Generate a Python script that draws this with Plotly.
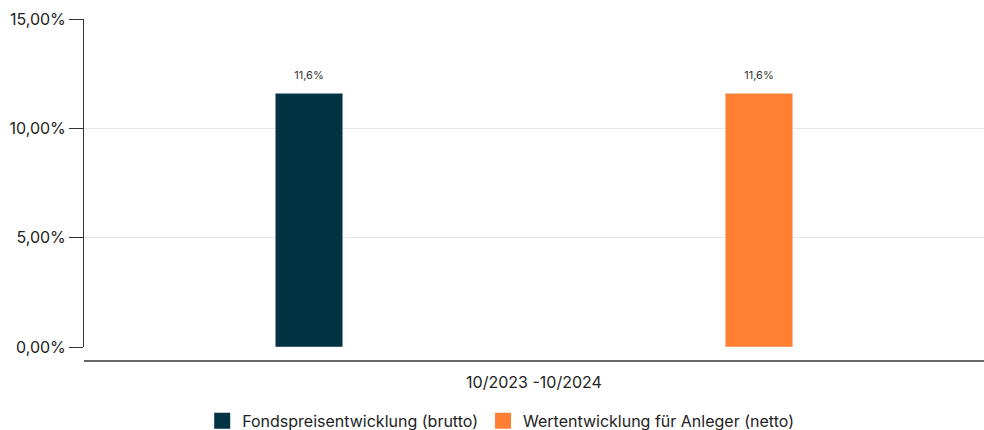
import plotly.graph_objects as go

categories = ["10/2023 -10/2024"]
series_names = ["Fondspreisentwicklung (brutto)", "Wertentwicklung für Anleger (netto)"]
series_values = [[11.6], [11.6]]
series_labels = [["11,6%"], ["11,6%"]]
colors = ["#023343", "#FF8033"]
y_ticks = [0, 5, 10, 15]
y_ticklabels = ["0,00%", "5,00%", "10,00%", "15,00%"]

FONT = "Inter, Roboto, sans-serif"

fig = go.Figure()
for i, (name, vals, col) in enumerate(zip(series_names, series_values, colors)):
    fig.add_trace(go.Bar(
        x=categories, y=vals, name=name, marker_color=col,
        offsetgroup=str(i), showlegend=False, hoverinfo="skip",
    ))
# value labels above bars (grouped like the bars)
for i, (vals, labs) in enumerate(zip(series_values, series_labels)):
    fig.add_trace(go.Scatter(
        x=categories, y=vals, mode="markers+text", text=labs,
        textposition="top center", offsetgroup=str(i),
        marker=dict(size=17, color="rgba(0,0,0,0)"),
        textfont=dict(size=11, color="#333333", family=FONT),
        showlegend=False, hoverinfo="skip", cliponaxis=False,
    ))
# legend entries with larger square swatches
for i, (name, col) in enumerate(zip(series_names, colors)):
    fig.add_trace(go.Scatter(
        x=[None], y=[None], mode="markers", name=name, offsetgroup=str(i),
        marker=dict(symbol="square", size=20, color=col),
    ))

fig.update_layout(
    width=984, height=430,
    margin=dict(l=84, r=0, t=19, b=83, autoexpand=False),
    paper_bgcolor="white", plot_bgcolor="white",
    barmode="group", bargap=0.0, bargroupgap=0.85,
    scattermode="group", scattergap=0.0,
    font=dict(family=FONT, color="#333333"),
    showlegend=True,
    legend=dict(orientation="h", x=0.463, xanchor="center", y=-0.173, yanchor="top",
                font=dict(size=16, color="#222222", family=FONT),
                itemsizing="trace", tracegroupgap=0, itemwidth=30),
    xaxis=dict(showgrid=False, showline=False, ticks="", zeroline=False,
               tickfont=dict(size=16, color="#222222", family=FONT),
               ticklabelstandoff=24, automargin=False),
    yaxis=dict(range=[0, 15], tickvals=y_ticks, ticktext=y_ticklabels,
               showgrid=True, gridcolor="#e6e6e6", gridwidth=1,
               showline=True, linecolor="#333333", linewidth=1,
               ticks="outside", ticklen=14, tickcolor="#333333",
               zeroline=False, automargin=False,
               tickfont=dict(size=16, color="#222222", family=FONT)),
    shapes=[dict(type="line", xref="paper", yref="paper",
                 x0=0, x1=1, y0=-14/328, y1=-14/328,
                 line=dict(color="#666666", width=2))],
)

fig.write_html("out.html", config={"displayModeBar": False},
               post_script="document.body.style.margin='0';")
